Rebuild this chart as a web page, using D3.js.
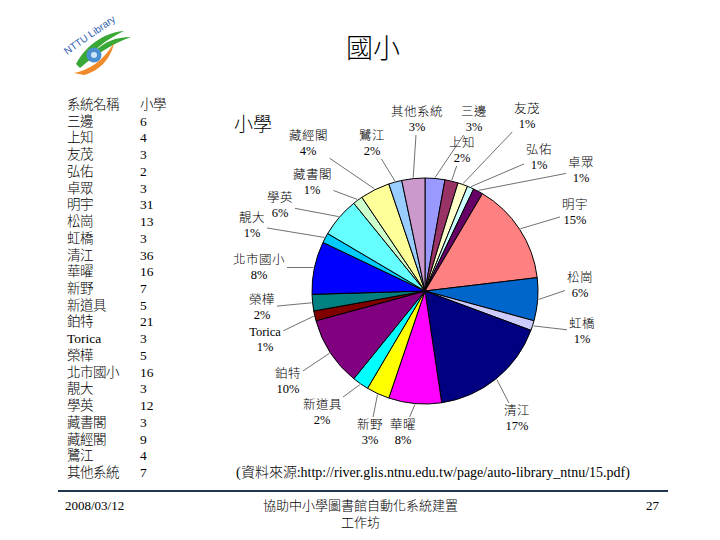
<!DOCTYPE html>
<html><head><meta charset="utf-8">
<script src="https://cdn.jsdelivr.net/npm/d3@7"></script>
<style>
@font-face { font-family: "CJKLight"; src: local("Noto Sans CJK TC Light"), local("NotoSansCJKtc-Light"), local("Noto Sans CJK JP Light"), local("NotoSansCJKjp-Light"); unicode-range: U+2E80-9FFF, U+F900-FAFF, U+FF00-FFEF, U+3000-303F; }
body{margin:0;background:#fff} svg{display:block}
</style>
</head><body>
<svg id="c" width="720" height="540"></svg>
<script>
// ---- data ----
const tableHeader = ["系統名稱", "小學"];
const categories = ["三邊","上知","友茂","弘佑","卓眾","明宇","松崗","虹橋","清江","華曜","新野","新道具","鉑特","Torica","榮樺","北市國小","靚大","學英","藏書閣","藏經閣","鷺江","其他系統"];
const values = [6,4,3,2,3,31,13,3,36,16,7,5,21,3,5,16,3,12,3,9,4,7];

// ---- styles / layout ----
const colors = ["#9999FF","#993366","#FFFFCC","#CCFFFF","#660066","#FF8080","#0066CC","#CCCCFF","#000080","#FF00FF","#FFFF00","#00FFFF","#800080","#800000","#008080","#0000FF","#00CCFF","#66FFFF","#CCFFCC","#FFFF99","#99CCFF","#CC99CC"];
const labelPos = [[474,112],[462,143],[527,109],[539,150],[581,163],[575,205],[580,278],[582,324],[517,411],[403,425],[370,425],[322,405],[288,374],[265,332],[262,300],[259,260],[252,218],[280,198],[312,175],[308,136],[372,136],[417,112]];
const FONT = "'Liberation Serif','CJKLight','Noto Sans CJK TC',serif";
const CJK = "'CJKLight','Noto Sans CJK TC','Liberation Serif',sans-serif";

const svg = d3.select("#c");

// logo
const logo = svg.append("g");
logo.append("path").attr("d","M76,64 C88,42 108,32 124,31 C112,37 100,44 94,52 C104,42 116,37 131,37 C112,44 96,54 80,68 Z").attr("fill","#3aa835");
logo.append("path").attr("d","M74,73 C88,71 104,60 114,43 C111,58 100,71 84,75 Z").attr("fill","#f08a2a");
logo.append("circle").attr("cx",94).attr("cy",55).attr("r",7.5).attr("fill","#4a8fd0");
logo.append("circle").attr("cx",94).attr("cy",55).attr("r",3).attr("fill","#cfe6f8");
logo.append("text").attr("x",67).attr("y",55).attr("transform","rotate(-35,67,55)")
  .attr("font-family","'Liberation Sans',sans-serif").attr("font-size",10).attr("fill","#3060b0").text("NTTU Library");

// title
svg.append("text").attr("x",373).attr("y",58).attr("text-anchor","middle")
  .attr("font-family",CJK).attr("font-size",27).attr("fill","#000").text("國小");

// table
const rowY = d3.scaleLinear().domain([0, categories.length]).range([109, 477]);
const tbl = svg.append("g").attr("font-family",FONT).attr("font-size",13.5).attr("fill","#000");
tbl.append("text").attr("x",67).attr("y",rowY(0)).text(tableHeader[0]);
tbl.append("text").attr("x",140).attr("y",rowY(0)).text(tableHeader[1]);
categories.forEach((c,i)=>{
  tbl.append("text").attr("x",67).attr("y",rowY(i+1)).text(c);
  tbl.append("text").attr("x",140).attr("y",rowY(i+1)).text(values[i]);
});

// pie
const cx = 425, cy = 291, R = 113;
const total = d3.sum(values);
const pie = d3.pie().sort(null).value(d=>d);
const arcs = pie(values);
const arc = d3.arc().innerRadius(0).outerRadius(R);
const g = svg.append("g").attr("transform",`translate(${cx},${cy})`);
g.selectAll("path").data(arcs).join("path")
  .attr("d",arc).attr("fill",(d,i)=>colors[i]).attr("stroke","#000").attr("stroke-width",1);

svg.append("text").attr("x",253).attr("y",131).attr("text-anchor","middle")
  .attr("font-family",CJK).attr("font-size",19).text("小學");

// labels
const lab = svg.append("g").attr("font-family",FONT).attr("font-size",12.5).attr("fill","#000").attr("text-anchor","middle");
arcs.forEach((a,i)=>{
  const [lx,ly] = labelPos[i];
  const t1 = lab.append("text").attr("x",lx).attr("y",ly+4).text(categories[i]);
  const t2 = lab.append("text").attr("x",lx).attr("y",ly+19).text(Math.round(values[i]/total*100)+"%");
  const b1 = t1.node().getBBox(), b2 = t2.node().getBBox();
  const x0 = Math.min(b1.x,b2.x)-2, x1 = Math.max(b1.x+b1.width,b2.x+b2.width)+2;
  const y0 = b1.y-1, y1 = b2.y+b2.height+1;
  const mid = (a.startAngle+a.endAngle)/2;
  const ax = cx + Math.sin(mid)*(R+1), ay = cy - Math.cos(mid)*(R+1);
  const bx = (x0+x1)/2, by = (y0+y1)/2;
  const dx = ax-bx, dy = ay-by;
  const ts = [];
  if (dx!==0){ ts.push(((dx>0?x1:x0)-bx)/dx); }
  if (dy!==0){ ts.push(((dy>0?y1:y0)-by)/dy); }
  const t = Math.min(...ts.filter(v=>v>0));
  if (t < 1) {
    svg.append("line").attr("x1",bx+dx*t).attr("y1",by+dy*t).attr("x2",ax).attr("y2",ay)
      .attr("stroke","#333").attr("stroke-width",0.7);
  }
});

// source
svg.append("text").attr("x",236).attr("y",477).attr("font-family",FONT).attr("font-size",14).text("(資料來源:http://river.glis.ntnu.edu.tw/page/auto-library_ntnu/15.pdf)");

// footer
svg.append("line").attr("x1",58).attr("x2",668).attr("y1",491).attr("y2",491).attr("stroke","#1f3550").attr("stroke-width",2);
const ft = svg.append("g").attr("font-family",FONT).attr("font-size",13).attr("fill","#000");
ft.append("text").attr("x",65).attr("y",510).text("2008/03/12");
ft.append("text").attr("x",360).attr("y",510).attr("text-anchor","middle").text("協助中小學圖書館自動化系統建置");
ft.append("text").attr("x",360).attr("y",527).attr("text-anchor","middle").text("工作坊");
ft.append("text").attr("x",659).attr("y",510).attr("text-anchor","end").text("27");
</script>
</body></html>
